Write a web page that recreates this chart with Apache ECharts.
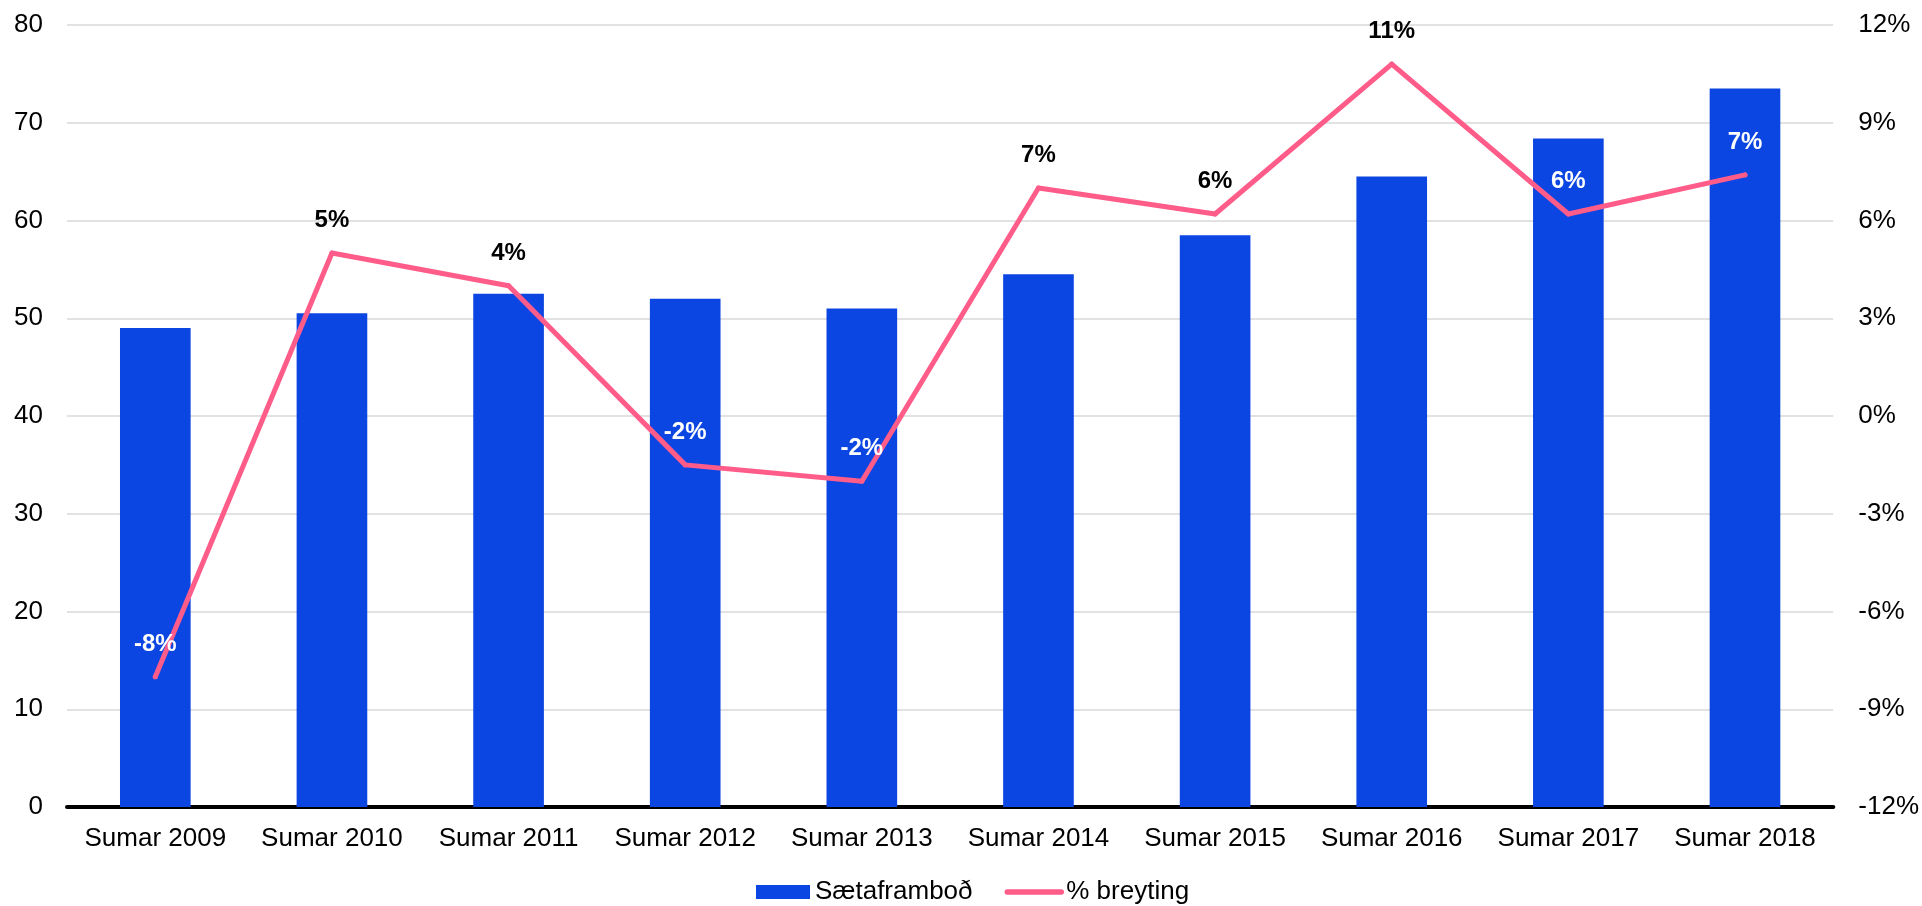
<!DOCTYPE html>
<html>
<head>
<meta charset="utf-8">
<script src="https://cdn.jsdelivr.net/npm/echarts@6/dist/echarts.min.js"></script>
<style>
html,body{margin:0;padding:0;background:#fff;}
#chart{width:1922px;height:906px;}
</style>
</head>
<body>
<div id="chart"></div>
<script>
const categories = ['Sumar 2009','Sumar 2010','Sumar 2011','Sumar 2012','Sumar 2013','Sumar 2014','Sumar 2015','Sumar 2016','Sumar 2017','Sumar 2018'];
const seats = [49, 50.5, 52.5, 52, 51, 54.5, 58.5, 64.5, 68.4, 73.5];
const pctChange = [-8.0, 5.0, 4.0, -1.5, -2.0, 7.0, 6.2, 10.8, 6.2, 7.4];
const seriesNames = ['Sætaframboð', '% breyting'];
const leftTicks = {min: 0, max: 80, interval: 10};
const rightTicks = {min: -12, max: 12, interval: 3};

const FONT = "'Liberation Sans', Arial, sans-serif";
const BAR_COLOR = '#0c46e2';
const LINE_COLOR = '#ff5c8a';

function roundPct(v){ return Math.sign(v) * Math.round(Math.abs(v)); }

// label colour: white when the label sits inside the bar, black otherwise
function labelColor(i){
  const pctSpan = rightTicks.max - rightTicks.min;
  const labelPct = pctChange[i] + 0.92;
  const asLeft = (labelPct - rightTicks.min) / pctSpan * (leftTicks.max - leftTicks.min);
  return asLeft < seats[i] ? '#ffffff' : '#000000';
}

const lineData = pctChange.map((v, i) => ({
  value: v,
  label: { color: labelColor(i) }
}));

const chart = echarts.init(document.getElementById('chart'), null, {renderer: 'canvas'});
chart.setOption({
  animation: false,
  backgroundColor: '#ffffff',
  textStyle: { fontFamily: FONT },
  grid: { left: 67, right: 87, top: 25, bottom: 99 },
  legend: {
    top: 874,
    left: 751,
    itemWidth: 54,
    itemHeight: 14,
    itemGap: 32,
    textStyle: { fontFamily: FONT, fontSize: 26, color: '#000' },
    data: [
      { name: seriesNames[0], icon: 'rect' },
      { name: seriesNames[1], itemStyle: { opacity: 0 }, lineStyle: { width: 5.5, cap: 'round' } }
    ]
  },
  xAxis: {
    type: 'category',
    data: categories,
    axisLine: { show: true, lineStyle: { color: '#000', width: 4 } },
    axisTick: { show: false },
    axisLabel: { color: '#000', fontSize: 26, fontFamily: FONT, margin: 19, interval: 0 }
  },
  yAxis: [
    {
      type: 'value',
      min: leftTicks.min, max: leftTicks.max, interval: leftTicks.interval,
      axisLine: { show: false },
      axisTick: { show: false },
      axisLabel: { color: '#000', fontSize: 26, fontFamily: FONT, margin: 24 },
      splitLine: { show: true, lineStyle: { color: '#d9d9d9', width: 1.5 } }
    },
    {
      type: 'value',
      position: 'right',
      min: rightTicks.min, max: rightTicks.max, interval: rightTicks.interval,
      axisLine: { show: false },
      axisTick: { show: false },
      axisLabel: { color: '#000', fontSize: 26, fontFamily: FONT, margin: 25, formatter: '{value}%' },
      splitLine: { show: false }
    }
  ],
  series: [
    {
      name: seriesNames[0],
      type: 'bar',
      data: seats,
      barWidth: '40%',
      itemStyle: { color: BAR_COLOR },
      z: 2
    },
    {
      name: seriesNames[1],
      type: 'line',
      yAxisIndex: 1,
      data: lineData,
      symbol: 'circle',
      symbolSize: 5,
      itemStyle: { color: LINE_COLOR },
      lineStyle: { color: LINE_COLOR, width: 5, cap: 'round', join: 'round' },
      label: {
        show: true,
        position: 'top',
        distance: 18,
        fontSize: 24,
        fontWeight: 'bold',
        fontFamily: FONT,
        formatter: p => roundPct(p.value) + '%'
      },
      z: 3
    }
  ]
});
</script>
</body>
</html>
